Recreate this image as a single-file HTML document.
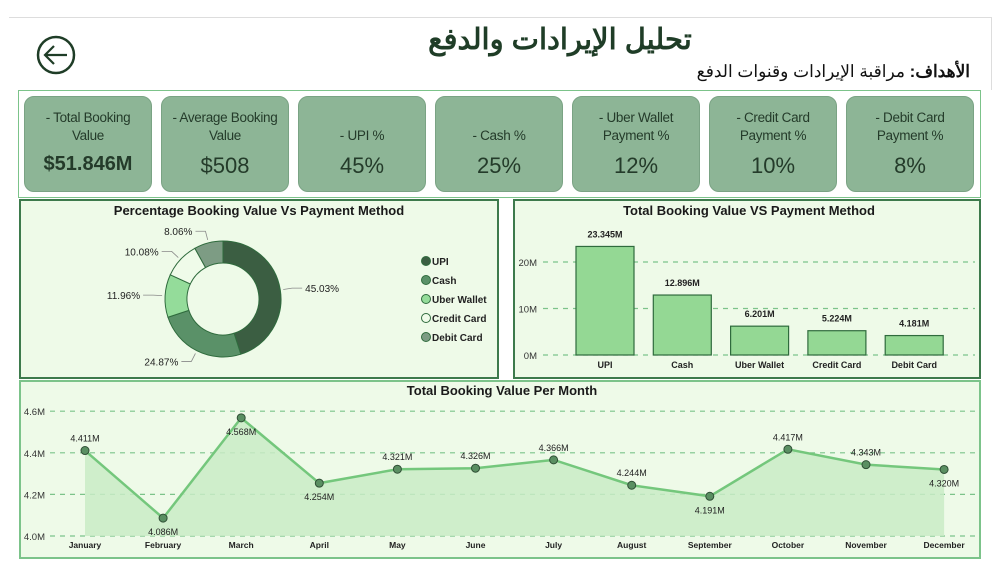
<!DOCTYPE html>
<html><head><meta charset="utf-8">
<style>
body{margin:0;width:1000px;height:578px;background:#fff;font-family:"Liberation Sans","Noto Sans CJK SC",sans-serif;position:relative;overflow:hidden}
.abs{position:absolute}
.card{position:absolute;top:96px;width:128px;height:96px;background:#8db596;border:1px solid #7aa384;border-radius:10px;text-align:center;color:#243b2a;box-sizing:border-box}
.card .l{position:absolute;top:12px;left:0;right:0;font-size:13.5px;line-height:18px;letter-spacing:-0.3px}
.card .v{position:absolute;top:56px;left:0;right:0;font-size:22px}
.panel{position:absolute;background:#eefae8;border:2.5px solid #3d7a4c;box-sizing:border-box}
svg text{font-family:"Liberation Sans",sans-serif}
</style></head><body>
<div class="abs" style="left:9px;top:17px;width:982px;height:72px;border-top:1px solid #ddd;border-right:1px solid #ddd"></div>
<svg class="abs" style="left:34px;top:34px" width="44" height="44"><circle cx="22" cy="21" r="18" fill="none" stroke="#1f3d27" stroke-width="2.5"/><path d="M33 21H12M20 12L11 21L20 30" fill="none" stroke="#1f3d27" stroke-width="2.2"/></svg>
<div class="abs" style="left:400px;top:22px;width:320px;text-align:center;font-size:29px;font-weight:bold;color:#1f3d27">تحليل الإيرادات والدفع</div>
<div class="abs" dir="rtl" style="right:30px;top:62px;font-size:17px;color:#111"><b>الأهداف:</b> مراقبة الإيرادات وقنوات الدفع</div>
<div class="abs" style="left:18px;top:90px;width:963px;height:108px;border:1px solid #7cc38a;box-sizing:border-box"></div>
<div class="card" style="left:24px"><div class="l">- Total Booking<br>Value</div><div class="v" style="font-size:20px;font-weight:bold">$51.846M</div></div>
<div class="card" style="left:161px"><div class="l">- Average Booking<br>Value</div><div class="v">$508</div></div>
<div class="card" style="left:298px"><div class="l" style="top:30px">- UPI %</div><div class="v">45%</div></div>
<div class="card" style="left:435px"><div class="l" style="top:30px">- Cash %</div><div class="v">25%</div></div>
<div class="card" style="left:572px"><div class="l">- Uber Wallet<br>Payment %</div><div class="v">12%</div></div>
<div class="card" style="left:709px"><div class="l">- Credit Card<br>Payment %</div><div class="v">10%</div></div>
<div class="card" style="left:846px"><div class="l">- Debit Card<br>Payment %</div><div class="v">8%</div></div>

<div class="panel" style="left:19px;top:199px;width:480px;height:180px"></div>
<div class="panel" style="left:513px;top:199px;width:468px;height:180px"></div>
<div class="panel" style="left:19px;top:380px;width:962px;height:179px;border-color:#7cc38a"></div>

<svg class="abs" style="left:0;top:0" width="1000" height="578" id="charts"></svg>
<script>
const pieLabels=["UPI","Cash","Uber Wallet","Credit Card","Debit Card"];
const pieValues=[45.03,24.87,11.96,10.08,8.06];
const pieColors=["#3b5e42","#5a9168","#94dc9a","#effbe9","#7d9c84"];
const barCats=["UPI","Cash","Uber Wallet","Credit Card","Debit Card"];
const barValues=[23.345,12.896,6.201,5.224,4.181];
const barTicks=[0,10,20];
const months=["January","February","March","April","May","June","July","August","September","October","November","December"];
const monthValues=[4.411,4.086,4.568,4.254,4.321,4.326,4.366,4.244,4.191,4.417,4.343,4.320];
const lineTicks=[4.0,4.2,4.4,4.6];
const NS="http://www.w3.org/2000/svg";
const svg=document.getElementById('charts');
function mk(t,a,txt){const e=document.createElementNS(NS,t);for(const k in a)e.setAttribute(k,a[k]);if(txt!==undefined)e.textContent=txt;svg.appendChild(e);return e;}
let t;
t=mk('text',{x:259,y:215,'text-anchor':'middle','font-size':13,'font-weight':'bold',fill:'#1a1a1a'},'Percentage Booking Value Vs Payment Method');


t=mk('text',{x:749,y:215,'text-anchor':'middle','font-size':13,'font-weight':'bold',fill:'#1a1a1a'},'Total Booking Value VS Payment Method');


t=mk('text',{x:502,y:395,'text-anchor':'middle','font-size':13,'font-weight':'bold',fill:'#1a1a1a'},'Total Booking Value Per Month');


// donut
const cx=223,cy=299,R=58,r=36;
const total=pieValues.reduce((a,b)=>a+b,0);
let ang=-Math.PI/2;
pieValues.forEach((v,i)=>{
  const a2=ang+v/total*2*Math.PI;
  const p=(a,rr)=>[cx+rr*Math.cos(a),cy+rr*Math.sin(a)];
  const lg=(a2-ang)>Math.PI?1:0;
  const [x1,y1]=p(ang,R),[x2,y2]=p(a2,R),[x3,y3]=p(a2,r),[x4,y4]=p(ang,r);
  const s=mk('path',{d:`M${x1} ${y1}A${R} ${R} 0 ${lg} 1 ${x2} ${y2}L${x3} ${y3}A${r} ${r} 0 ${lg} 0 ${x4} ${y4}Z`,fill:pieColors[i],stroke:'#2f6b3d','stroke-width':1});
  
  
  const mid=(ang+a2)/2;
  const [lx,ly]=p(mid,R+3),[ex,ey]=p(mid,R+12);
  const right=Math.cos(mid)>0;
  mk('polyline',{points:`${lx},${ly} ${ex},${ey} ${ex+(right?10:-10)},${ey}`,fill:'none',stroke:'#888','stroke-width':0.8});
  const lb=mk('text',{x:ex+(right?13:-13),y:ey+4,'text-anchor':right?'start':'end','font-size':10,fill:'#222'},v.toFixed(2)+'%');
  
  
  ang=a2;
});
pieLabels.forEach((l,i)=>{
  const y=261+i*19;
  mk('circle',{cx:426,cy:y,r:4.5,fill:pieColors[i],stroke:'#2f6b3d','stroke-width':1});
  const lt=mk('text',{x:432,y:y+4,'font-size':10,'font-weight':'bold',fill:'#222'},l);
  
  
});
// bar chart
const by=v=>355-v*4.65;
barTicks.forEach(v=>{
  mk('line',{x1:543,x2:975,y1:by(v),y2:by(v),stroke:'#7cc38a','stroke-width':1.2,'stroke-dasharray':'5,5'});
  const tl=mk('text',{x:537,y:by(v)+4,'text-anchor':'end','font-size':9.5,fill:'#333'},v+'M');
  
  
});
barCats.forEach((c,i)=>{
  const xc=605+i*77.3,w=58;
  const b=mk('rect',{x:xc-w/2,y:by(barValues[i]),width:w,height:355-by(barValues[i]),fill:'#94d894',stroke:'#2f6b3d','stroke-width':1.2});
  
  
  const vl=mk('text',{x:xc,y:by(barValues[i])-9,'text-anchor':'middle','font-size':9,'font-weight':'bold',fill:'#222'},barValues[i].toFixed(3)+'M');
  
  
  const xl=mk('text',{x:xc,y:368,'text-anchor':'middle','font-size':9,'font-weight':'bold',fill:'#222'},c);
  
  
});
// line chart
const ly=v=>536-(v-4.0)*208;
const lx=i=>85+i*78.1;
lineTicks.forEach(v=>{
  mk('line',{x1:50,x2:975,y1:ly(v),y2:ly(v),stroke:'#7cc38a','stroke-width':1.2,'stroke-dasharray':'5,5'});
  const tl=mk('text',{x:45,y:ly(v)+4,'text-anchor':'end','font-size':9.5,fill:'#333'},v.toFixed(1)+'M');
  
  
});
let pts=monthValues.map((v,i)=>lx(i)+','+ly(v)).join(' ');
const area=mk('polygon',{points:`${lx(0)},${ly(4.0)} ${pts} ${lx(11)},${ly(4.0)}`,fill:'#c9ebc6',opacity:0.85});


const pl=mk('polyline',{points:pts,fill:'none',stroke:'#74c77c','stroke-width':2.5});


const below=[false,true,true,true,false,false,false,false,true,false,false,true];
monthValues.forEach((v,i)=>{
  const p=mk('circle',{cx:lx(i),cy:ly(v),r:4,fill:'#5a8f62',stroke:'#2f4f35','stroke-width':1});
  
  
  const yl=below[i]?ly(v)+17:ly(v)-9;
  const vl=mk('text',{x:lx(i),y:yl,'text-anchor':'middle','font-size':9,fill:'#222'},v.toFixed(3)+'M');
  
  
  const xl=mk('text',{x:lx(i),y:548,'text-anchor':'middle','font-size':8.5,'font-weight':'bold',fill:'#222'},months[i]);
  
  
});
</script>
</body></html>
